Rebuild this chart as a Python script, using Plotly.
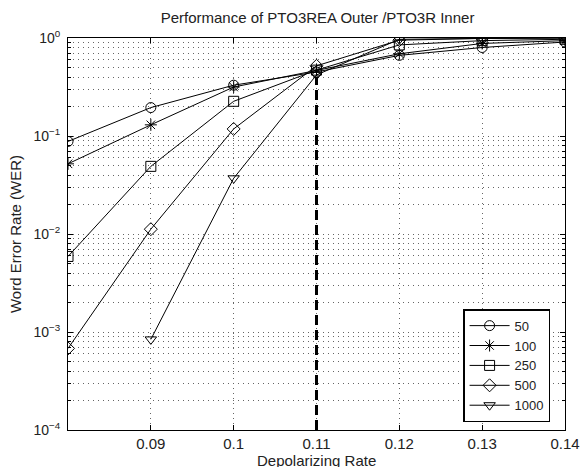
import plotly.graph_objects as go

rates = [0.08, 0.09, 0.10, 0.11, 0.12, 0.13, 0.14]
wer_50 = [0.088, 0.195, 0.33, 0.45, 0.665, 0.80, 0.91]
wer_100 = [0.052, 0.13, 0.316, 0.47, 0.69, 0.88, 0.94]
wer_250 = [0.0059, 0.049, 0.226, 0.47, 0.85, 0.94, 0.97]
wer_500 = [0.00068, 0.0112, 0.118, 0.52, 0.95, 0.99, 1.0]
rates_1000 = [0.09, 0.10, 0.11, 0.12, 0.13, 0.14]
wer_1000 = [0.00084, 0.037, 0.42, 0.97, 0.99, 1.0]
threshold_x = [0.11, 0.11]
threshold_y = [1e-4, 0.40]

series = [
    ("50", rates, wer_50, "circle-open"),
    ("100", rates, wer_100, "asterisk-open"),
    ("250", rates, wer_250, "square-open"),
    ("500", rates, wer_500, "diamond-open"),
    ("1000", rates_1000, wer_1000, "triangle-down-open"),
]

fig = go.Figure()
fig.add_trace(go.Scatter(x=threshold_x, y=threshold_y, mode="lines",
                         line=dict(color="black", width=3, dash="10px,5px"),
                         showlegend=False, hoverinfo="skip"))
for name, xs, ys, sym in series:
    fig.add_trace(go.Scatter(x=xs, y=ys, mode="lines+markers", name=name,
                             line=dict(color="black", width=1),
                             marker=dict(symbol=sym, size=10, color="black",
                                         line=dict(width=1, color="black"))))

major_y = [1e-4, 1e-3, 1e-2, 1e-1, 1]
major_y_text = ["10<sup>−4</sup>", "10<sup>−3</sup>", "10<sup>−2</sup>", "10<sup>−1</sup>", "10<sup>0</sup>"]
minor_y = [m * 10 ** e for e in range(-4, 0) for m in range(2, 10)]
x_ticks = [0.09, 0.10, 0.11, 0.12, 0.13, 0.14]
x_text = ["0.09", "0.1", "0.11", "0.12", "0.13", "0.14"]

grid_dash = "1px,4px"
grid_col = "#666"
font = dict(family="Liberation Sans, Arial, sans-serif", size=14, color="#222")
fig.update_layout(
    width=588, height=467,
    margin=dict(l=68, r=23, t=38, b=37),
    paper_bgcolor="white", plot_bgcolor="white",
    font=font,
    title=dict(text="Performance of PTO3REA Outer /PTO3R Inner", x=0.54, xanchor="center",
               y=0.963, yanchor="middle", font=dict(size=15, color="#222")),
    showlegend=True,
    legend=dict(x=0.97, y=0.02, xanchor="right", yanchor="bottom",
                bgcolor="white", bordercolor="black", borderwidth=1.5,
                font=dict(size=13), itemwidth=40, tracegroupgap=0),
    xaxis=dict(range=[0.08, 0.14], tickvals=x_ticks, ticktext=x_text,
               showline=True, linecolor="black", linewidth=1, mirror="ticks",
               ticks="inside", ticklen=5, tickcolor="black",
               showgrid=True, gridcolor=grid_col, griddash=grid_dash, gridwidth=1,
               zeroline=False, tickfont=dict(size=15), automargin=False),
    yaxis=dict(type="log", range=[-4, 0], tickvals=major_y, ticktext=major_y_text,
               showline=True, linecolor="black", linewidth=1, mirror="ticks",
               ticks="inside", ticklen=5, tickcolor="black", ticklabelstandoff=4,
               showgrid=True, gridcolor=grid_col, griddash=grid_dash, gridwidth=1,
               zeroline=False, tickfont=dict(size=14), automargin=False,
               minor=dict(tickvals=minor_y, ticks="inside", ticklen=3, tickcolor="black",
                          showgrid=True, gridcolor=grid_col, griddash=grid_dash, gridwidth=1),
               title=dict(text="Word Error Rate (WER)", standoff=8, font=dict(size=15))),
    annotations=[dict(text="Depolarizing Rate", xref="paper", yref="paper",
                      x=0.5, y=-0.052, xanchor="center", yanchor="top",
                      showarrow=False, font=dict(size=15, color="#222"))],
)

fig.write_html("out.html")
